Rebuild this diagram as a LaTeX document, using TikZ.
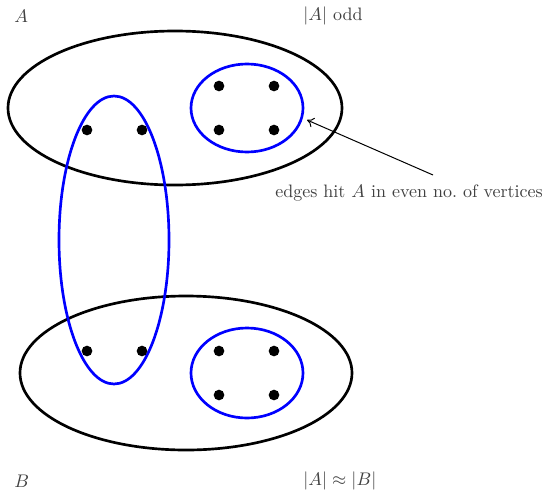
\documentclass[tikz,border=0pt]{standalone}
\usetikzlibrary{arrows.meta}
\begin{document}
\begin{tikzpicture}[x=0.6pt,y=-0.6pt,
  blk/.style={draw=black,line width=1.6pt},
  blu/.style={draw=blue,line width=1.6pt},
  dot/.style={circle,fill=black,inner sep=0pt,minimum size=6.4pt},
  lbl/.style={text=black!75,inner sep=0pt,font=\fontsize{10.8pt}{13pt}\selectfont}]
\useasboundingbox (0,0) rectangle (545,492);
\draw[blk] (175,108) ellipse [x radius=167,y radius=77];
\draw[blk] (186,373) ellipse [x radius=166,y radius=77];
\draw[blu] (114,240) ellipse [x radius=55,y radius=144];
\draw[blu] (247,108) ellipse [x radius=56,y radius=44];
\draw[blu] (247,373) ellipse [x radius=56,y radius=45];
\node[dot] (a1) at (219,86) {};
\node[dot] (a2) at (274,86) {};
\node[dot] (a3) at (219,130) {};
\node[dot] (a4) at (274,130) {};
\node[dot] (c1) at (87,130) {};
\node[dot] (c2) at (142,130) {};
\node[dot] (c3) at (87,351) {};
\node[dot] (c4) at (142,351) {};
\node[dot] (b1) at (219,351) {};
\node[dot] (b2) at (274,351) {};
\node[dot] (b3) at (219,395) {};
\node[dot] (b4) at (274,395) {};
\node[lbl,anchor=west] (lA) at (14,16) {$A$};
\node[lbl,anchor=west] (lodd) at (303,16) {$|A|$ odd};
\node[lbl,anchor=west] (lB) at (14,481) {$B$};
\node[lbl,anchor=west] (lapprox) at (303,481) {$|A|\approx|B|$};
\node[lbl] (edges) at (409,193) {edges hit $A$ in even no.\ of vertices};
\coordinate (tail) at (433,175);
\coordinate (head) at (307,120);
\draw[line width=0.6pt,-{To[length=4pt,width=6pt]}] (tail) -- (head);
\end{tikzpicture}
\end{document}
